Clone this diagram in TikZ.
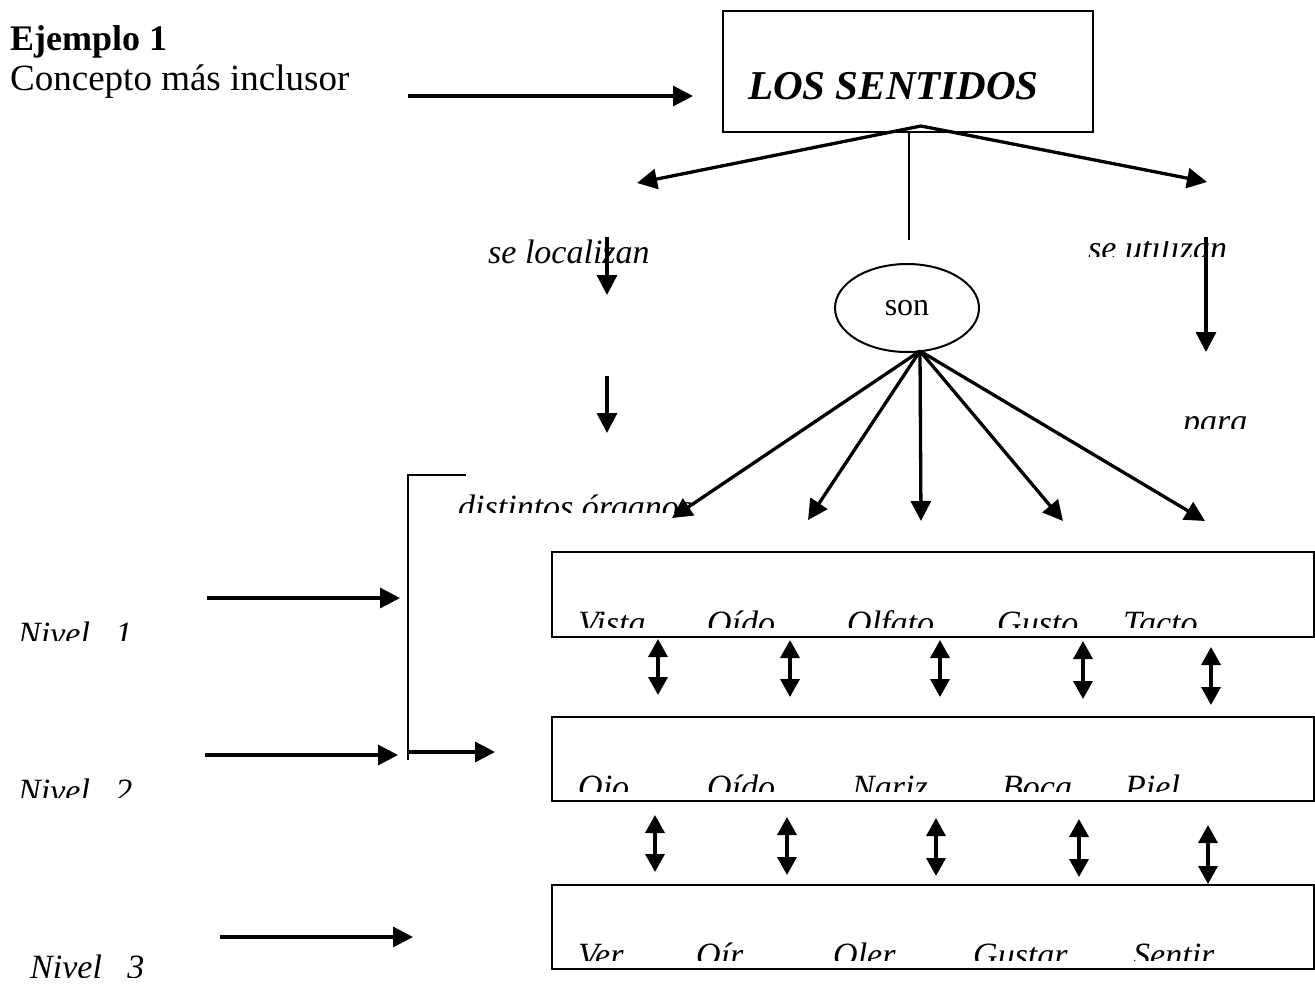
\documentclass[tikz,border=0pt]{standalone}
\usepackage{fontspec}
\setmainfont{Liberation Serif}
\usetikzlibrary{arrows.meta,shapes.geometric}
\begin{document}
\begin{tikzpicture}[x=1pt,y=-1pt,
  >={Triangle[length=20pt,width=20pt]},
  arr/.style={line width=3.3pt,->},
  darr/.style={line width=3.5pt,{Triangle[length=18pt,width=19pt]}-{Triangle[length=18pt,width=19pt]}},
  thin/.style={line width=2pt},
  frame/.style={draw,line width=2pt,inner sep=0pt,anchor=north west},
  lbl/.style={anchor=base west,inner sep=0pt,font=\fontsize{34}{40}\selectfont\itshape},
  plain/.style={anchor=base west,inner sep=0pt,font=\fontsize{37}{42}\selectfont},
]
\useasboundingbox[fill=white] (0,0) rectangle (1315,986);

% title
\node[plain,font=\fontsize{36}{42}\selectfont\bfseries] (ej) at (10,50) {Ejemplo 1};
\node[plain] (cm) at (10,90) {Concepto más inclusor};
\coordinate (c0a) at (408,96);
\coordinate (c0b) at (693,96);
\draw[arr] (c0a) -- (c0b);

% main concept
\node[frame,minimum width=370,minimum height=121] (ls) at (722,10) {};
\node[anchor=base west,inner sep=0pt,font=\fontsize{41}{48}\selectfont\bfseries\itshape] (lstext) at (748,99) {LOS SENTIDOS};
\coordinate (apex) at (921,126);
\coordinate (lt) at (637,183);
\coordinate (rt) at (1207,182);
\draw[arr] (apex) -- (lt);
\draw[arr] (apex) -- (rt);
\coordinate (vt) at (909,131);
\coordinate (vb) at (909,240);
\draw[thin] (vt) -- (vb);

% left branch
\node[lbl] (loc) at (488,263) {se localizan};
\coordinate (d1a) at (607,237); \coordinate (d1b) at (607,295);
\coordinate (d2a) at (607,376); \coordinate (d2b) at (607,433);
\draw[arr] (d1a) -- (d1b);
\draw[arr] (d2a) -- (d2b);
\begin{scope}
  \clip (440,480) rectangle (720,512);
  \node[lbl] (org) at (458,518) {distintos órganos};
\end{scope}

% right branch
\begin{scope}
  \clip (1080,241) rectangle (1260,256);
  \node[lbl] (uti) at (1088,259) {se utilizan};
\end{scope}
\coordinate (d3a) at (1206,237); \coordinate (d3b) at (1206,352);
\draw[arr] (d3a) -- (d3b);
\begin{scope}
  \clip (1170,414) rectangle (1260,428);
  \node[lbl] (para) at (1183,432) {para};
\end{scope}

% son
\node[ellipse,draw,line width=2pt,minimum width=144,minimum height=88,font=\fontsize{32}{36}\selectfont] (son) at (907,308) {son};
\coordinate (sb) at (920,351);
\coordinate (s1) at (672,518);
\coordinate (s2) at (808,520);
\coordinate (s3) at (921,521);
\coordinate (s4) at (1063,521);
\coordinate (s5) at (1205,521);
\foreach \t in {s1,s2,s3,s4,s5} \draw[arr] (sb) -- (\t);

% rows
\node[frame,minimum width=762,minimum height=85] (row1) at (551,551) {};
\node[frame,minimum width=762,minimum height=84] (row2) at (551,716) {};
\node[frame,minimum width=762,minimum height=84] (row3) at (551,884) {};

\begin{scope}
  \clip (552,552) rectangle (1312,627);
  \node[lbl] (vista) at (578,634) {Vista};
  \node[lbl] (oido1) at (707,634) {Oído};
  \node[lbl] (olfato) at (847,634) {Olfato};
  \node[lbl] (gusto) at (997,634) {Gusto};
  \node[lbl] (tacto) at (1123,634) {Tacto};
\end{scope}
\begin{scope}
  \clip (552,717) rectangle (1312,791);
  \node[lbl] (ojo) at (578,798) {Ojo};
  \node[lbl] (oido2) at (707,798) {Oído};
  \node[lbl] (nariz) at (852,798) {Nariz};
  \node[lbl] (boca) at (1002,798) {Boca};
  \node[lbl] (piel) at (1125,798) {Piel};
\end{scope}
\begin{scope}
  \clip (552,885) rectangle (1312,960);
  \node[lbl] (ver) at (578,966) {Ver};
  \node[lbl] (oir) at (696,966) {Oír};
  \node[lbl] (oler) at (833,966) {Oler};
  \node[lbl] (gustar) at (973,966) {Gustar};
  \node[lbl] (sentir) at (1133,966) {Sentir};
\end{scope}

% double arrows between rows
\foreach \x/\a/\b [count=\i] in {658/639/695, 790/640/697, 940/640/697, 1083/641/699, 1211/647/705} {
  \coordinate (u\i) at (\x,\a); \coordinate (v\i) at (\x,\b);
  \draw[darr] (u\i) -- (v\i);
}
\foreach \x/\a/\b [count=\i] in {655/815/872, 787/817/875, 936/818/876, 1079/819/877, 1208/825/884} {
  \coordinate (p\i) at (\x,\a); \coordinate (q\i) at (\x,\b);
  \draw[darr] (p\i) -- (q\i);
}

% levels
\begin{scope}
  \clip (0,600) rectangle (200,640);
  \node[lbl] (n1) at (18,645) {Nivel\ \ \ 1};
\end{scope}
\begin{scope}
  \clip (0,760) rectangle (200,797);
  \node[lbl] (n2) at (18,802) {Nivel\ \ \ 2};
\end{scope}
\begin{scope}
  \clip (0,940) rectangle (200,977);
  \node[lbl] (n3) at (30,978) {Nivel\ \ \ 3};
\end{scope}
\coordinate (l1a) at (207,598); \coordinate (l1b) at (400,598);
\coordinate (l2a) at (205,755); \coordinate (l2b) at (398,755);
\coordinate (l3a) at (220,937); \coordinate (l3b) at (413,937);
\draw[arr] (l1a) -- (l1b);
\draw[arr] (l2a) -- (l2b);
\draw[arr] (l3a) -- (l3b);

% bracket
\coordinate (bk0) at (466,475);
\coordinate (bk1) at (408,475);
\coordinate (bk2) at (408,760);
\draw[thin] (bk0) -- (bk1) -- (bk2);
\coordinate (bka) at (408,752); \coordinate (bkb) at (495,752);
\draw[arr] (bka) -- (bkb);
\end{tikzpicture}
\end{document}
